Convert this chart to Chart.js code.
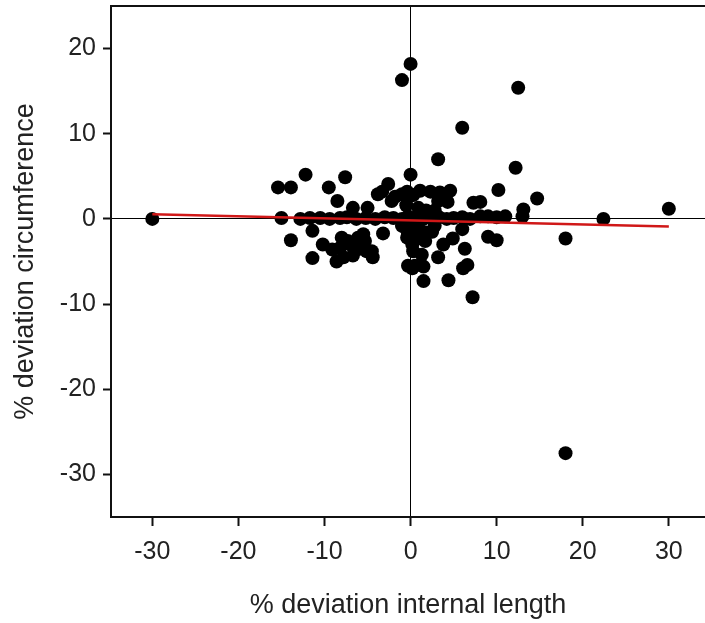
<!DOCTYPE html>
<html>
<head>
<meta charset="utf-8">
<script src="https://cdn.jsdelivr.net/npm/chart.js@4.4.1/dist/chart.umd.min.js"></script>
<style>
  html, body { margin: 0; padding: 0; background: #fff; }
  #wrap { width: 705px; height: 623px; }
</style>
</head>
<body>
<div id="wrap"><canvas id="chart"></canvas></div>
<script>
// % deviation internal length (x) vs % deviation circumference (y)
const devLength = [
  -30, -1, 0, 12.5, 6, 12.2, 3.2, 14.7, 10.2, 13.1, 18, 18, 22.4, 30, 7.2,
  -15.4, -13.9, -12.2, -9.5, -7.6, -8.5, -6.7, -5, -3.8, -3.3, -2.6, -2.2, -1.8, -1, -0.4, 0, 0.3, -0.5, 0,
  1.1, 2.3, 3.4, 4.6, 3.2, 4.3, 7.3, 8.1, 0.9, 1.8, 2.8,
  -15, -12.8, -11.7, -10.5, -9.4, -8.2, -7.4, -6.3, -5.2, -4.1, -3, -2, -1, -0.3,
  0.6, 1.5, 2.4, 3.3, 4.2, 5, 6, 6.9, 8.1, 9, 10, 11, 13,
  -11.4, -13.9, -10.2, -9.1, -11.4, -8.2, -7.8, -7, -6.1, -5.5, -5.1, -4.4, -6.7, -8.6,
  -8, -7.3, -5.9, -5.3, -4.5, -3.2, -0.4, -0.3, 0.3, -1,
  6, 9, 10, 4.9, 3.8, 6.3, 3.2, 6.1, 6.6, 1.3, 0.2, -0.3, 1.7, 0.5, 1.5, 4.4, 1.5, 0.2,
  1, 2.5, 0.8, 0.5, 1.8, 2.8, -0.6
];
const devCircumference = [
  0, 16.3, 18.2, 15.4, 10.7, 6, 7, 2.4, 3.4, 1.1, -27.5, -2.3, 0, 1.2, -9.2,
  3.7, 3.7, 5.2, 3.7, 4.9, 2.1, 1.3, 1.3, 2.9, 3.2, 4.1, 2.1, 2.6, 2.9, 3.2, 5.2, 2.8, 1.6, 2.7,
  3.3, 3.2, 3.1, 3.3, 2.1, 2.0, 1.9, 2.0, 1.3, 1.0, 1.0,
  0.1, 0, 0.1, 0.1, 0, 0.1, 0.2, 0, 0.1, 0, 0.2, 0.1, 0, 0.3,
  0.2, 0, 0.1, 0.2, 0, 0.1, 0.2, 0, 0.3, 0.3, 0.2, 0.3, 0.3,
  -1.4, -2.5, -3, -3.6, -4.6, -3.4, -4.5, -3, -2.2, -1.8, -3.8, -4.5, -4.3, -5,
  -2.2, -2.6, -3.5, -2.6, -3.8, -1.7, -2.2, -5.5, -3.8, -0.8,
  -1.2, -2.1, -2.5, -2.3, -3, -3.5, -4.5, -5.8, -5.4, -4.2, -3, -1.8, -2.6, -5.5, -5.6, -7.2, -7.3, -5.8,
  -1.2, -1.5, -2.3, -1, -1.6, -0.8, -1
];
// fitted regression line end points
const fitX = [-30, 30];
const fitY = [0.55, -0.9];

const xTicks = [-30, -20, -10, 0, 10, 20, 30];
const yTicks = [-30, -20, -10, 0, 10, 20];

const points = devLength.map((x, i) => ({ x: x, y: devCircumference[i] }));
const fitLine = fitX.map((x, i) => ({ x: x, y: fitY[i] }));

const FONT = "'Liberation Sans', Arial, sans-serif";

// top edge of the box
const topBorder = {
  id: 'topBorder',
  afterDraw(chart) {
    const a = chart.chartArea, ctx = chart.ctx;
    ctx.save();
    ctx.strokeStyle = '#111';
    ctx.lineWidth = 2;
    ctx.beginPath();
    ctx.moveTo(a.left - 1, a.top);
    ctx.lineTo(a.right, a.top);
    ctx.stroke();
    ctx.restore();
  }
};

new Chart(document.getElementById('chart'), {
  type: 'scatter',
  data: {
    datasets: [
      {
        type: 'line',
        data: fitLine,
        borderColor: '#d01818',
        borderWidth: 2.5,
        pointRadius: 0,
        fill: false,
        order: 0
      },
      {
        data: points,
        backgroundColor: '#000',
        borderWidth: 0,
        pointRadius: 7,
        order: 1
      }
    ]
  },
  options: {
    responsive: true,
    maintainAspectRatio: false,
    animation: false,
    layout: { autoPadding: false, padding: { top: 6, left: 0, right: 0, bottom: 0 } },
    plugins: { legend: { display: false }, tooltip: { enabled: false } },
    scales: {
      x: {
        type: 'linear',
        min: -34.8,
        max: 34.2,
        afterBuildTicks: s => { s.ticks = xTicks.map(v => ({ value: v })); },
        afterFit: s => { s.height = 106; s.paddingLeft = 0; s.paddingRight = 0; },
        border: { display: true, color: '#111', width: 2 },
        grid: {
          drawOnChartArea: true,
          color: c => (c.tick && c.tick.value === 0 ? '#000' : 'rgba(0,0,0,0)'),
          lineWidth: 1,
          tickColor: '#111',
          tickLength: 9,
          tickWidth: 2
        },
        ticks: { color: '#222', font: { family: FONT, size: 25 }, padding: 11, maxRotation: 0 },
        title: {
          display: true,
          text: '% deviation internal length',
          color: '#222',
          font: { family: FONT, size: 27 },
          padding: { top: 0, bottom: 1 }
        }
      },
      y: {
        type: 'linear',
        min: -35,
        max: 25,
        afterBuildTicks: s => { s.ticks = yTicks.map(v => ({ value: v })); },
        afterFit: s => { s.width = 111; s.paddingTop = 0; s.paddingBottom = 0; },
        border: { display: true, color: '#111', width: 2 },
        grid: {
          drawOnChartArea: true,
          color: c => (c.tick && c.tick.value === 0 ? '#000' : 'rgba(0,0,0,0)'),
          lineWidth: 1,
          tickColor: '#111',
          tickLength: 8,
          tickWidth: 2
        },
        ticks: { color: '#222', font: { family: FONT, size: 25 }, padding: 7 },
        title: {
          display: true,
          text: '% deviation circumference',
          color: '#222',
          font: { family: FONT, size: 27 },
          padding: { top: 9, bottom: 0 }
        }
      }
    }
  },
  plugins: [topBorder]
});
</script>
</body>
</html>
